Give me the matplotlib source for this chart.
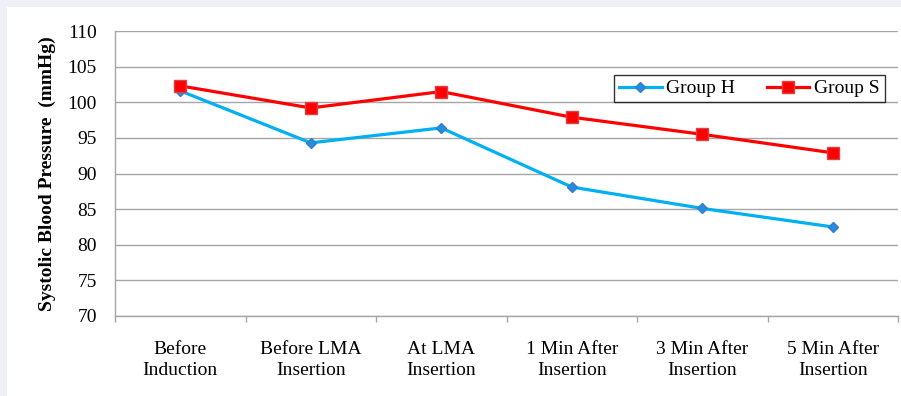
import numpy as np
import matplotlib
matplotlib.use("Agg")
import matplotlib.pyplot as plt
from matplotlib.patches import Rectangle

# data
categories = ["Before\nInduction", "Before LMA\nInsertion", "At LMA\nInsertion",
              "1 Min After\nInsertion", "3 Min After\nInsertion", "5 Min After\nInsertion"]
group_h = [101.6, 94.3, 96.4, 88.1, 85.1, 82.5]
group_s = [102.3, 99.2, 101.5, 97.9, 95.5, 92.9]
y_ticks = [70, 75, 80, 85, 90, 95, 100, 105, 110]

plt.rcParams['font.family'] = ['Liberation Serif', 'DejaVu Serif']

fig = plt.figure(figsize=(9.01, 3.96), dpi=100)
fig.patch.set_facecolor('#eef0f5')
# white panel inside the light border
fig.patches.append(Rectangle((7 / 901, 0), 1, 1 - 7 / 396, transform=fig.transFigure,
                             facecolor='white', edgecolor='none', zorder=-10))

ax = fig.add_axes([115 / 901, 1 - 316 / 396, (898 - 115) / 901, (316 - 31) / 396])
ax.set_zorder(1)
ax.patch.set_alpha(0)

x = np.arange(len(categories))
ax.plot(x, group_h, color='#00b0f0', lw=2.3, marker='D', ms=5.5,
        mfc='#1f8fe0', mec='#3a7cc9', label='Group H', zorder=3)
ax.plot(x, group_s, color='#ff0000', lw=2.3, marker='s', ms=8,
        mfc='#ff0000', mec='#e04040', label='Group S', zorder=3)

ax.set_xlim(-0.5, len(categories) - 0.5)
ax.set_ylim(70, 110)
ax.set_yticks(y_ticks)
ax.set_yticklabels([str(v) for v in y_ticks], fontsize=14)
ax.tick_params(axis='y', length=0, pad=13)
ax.grid(axis='y', color='#a6a6a6', lw=1)
ax.set_axisbelow(True)

ax.set_xticks(x)
ax.set_xticklabels(categories, fontsize=14, linespacing=1.3)
ax.set_xticks(np.arange(-0.5, len(categories)), minor=True)
ax.tick_params(axis='x', which='major', length=0, pad=18)
ax.tick_params(axis='x', which='minor', length=4, color='#a6a6a6', width=1)

for side in ['top', 'right']:
    ax.spines[side].set_visible(False)
for side in ['left', 'bottom']:
    ax.spines[side].set_color('#a6a6a6')
    ax.spines[side].set_linewidth(1)

ax.set_ylabel("Systolic Blood Pressure  (mmHg)", fontsize=14, fontweight='bold', labelpad=8)

leg = ax.legend(loc='upper left', bbox_to_anchor=((614 - 115) / 783, 1 - (75 - 31) / 285),
                ncol=2, fontsize=14, frameon=True, fancybox=False, handlelength=2.2,
                borderpad=0.25, columnspacing=1.6, handletextpad=0.25, borderaxespad=0)
leg.get_frame().set_edgecolor('black')
leg.get_frame().set_linewidth(1)

fig.savefig('out.png', dpi=100, facecolor=fig.get_facecolor())
